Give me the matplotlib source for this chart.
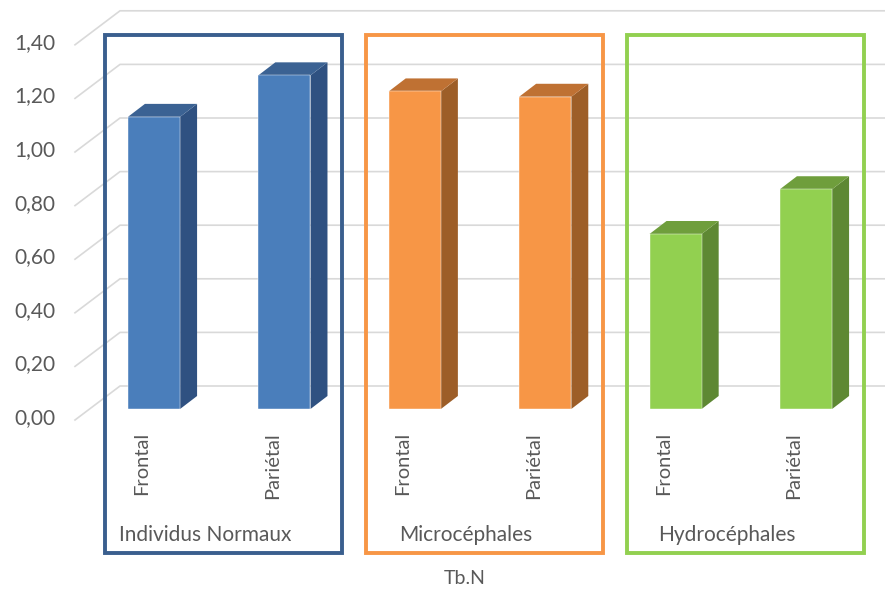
import matplotlib.pyplot as plt
from matplotlib.patches import Polygon, Rectangle

plt.rcParams['font.family'] = ['Lato', 'DejaVu Sans']

# data
groups = ['Individus Normaux', 'Microcéphales', 'Hydrocéphales']
regions = ['Frontal', 'Pariétal']
values = [[1.09, 1.245], [1.185, 1.165], [0.653, 0.82]]
yticks = [0.0, 0.2, 0.4, 0.6, 0.8, 1.0, 1.2, 1.4]
xlabel = 'Tb.N'

front_cols = ['#4A7EBB', '#F79646', '#92D050']
side_cols = ['#2F5181', '#9D5E28', '#5E8833']
top_cols = ['#3B6293', '#BF7133', '#6F9E3C']
box_cols = ['#3A5F8E', '#F79646', '#92D050']
text_col = '#595959'

# layout: one axes over whole figure, 130.4 px per category, 268 px per unit
PX_X = 1 / 130.4
PX_Y = 1 / 268
W = 0.40
DX, DY = 17 * PX_X, 13 * PX_Y          # bar depth
WX, WY = 45 * PX_X, 34 * PX_Y          # wall depth
FRONT_Y = -11 * PX_Y                    # front wall baseline offset

fig = plt.figure(figsize=(8.85, 5.91), dpi=100)
ax = fig.add_axes([0, 0, 1, 1])
ax.set_xlim(-154 * PX_X, 731 * PX_X)
ax.set_ylim(-182 * PX_Y, 409 * PX_Y)
ax.axis('off')

# gridlines (left wall diagonal + back wall horizontal)
x_front = -79 * PX_X
for t in yticks:
    yf = t + FRONT_Y
    yb = yf + WY
    ax.plot([x_front, x_front + WX, 10], [yf, yb, yb], color='#D9D9D9', lw=1.2, zorder=1)
    ax.text(-99 * PX_X, yf + 2 * PX_Y, f'{t:.2f}'.replace('.', ','), ha='right', va='center',
            fontsize=15, color=text_col)

# bars
for g, vals in enumerate(values):
    for r, v in enumerate(vals):
        x = g * len(regions) + r
        xr = x + W / 2
        xl = x - W / 2
        side = Polygon([(xr, 0), (xr + DX, DY), (xr + DX, v + DY), (xr, v)],
                       closed=True, facecolor=side_cols[g], edgecolor='none', zorder=3)
        top = Polygon([(xl, v), (xr, v), (xr + DX, v + DY), (xl + DX, v + DY)],
                      closed=True, facecolor=top_cols[g], edgecolor='none', zorder=3)
        ax.add_patch(side)
        ax.add_patch(top)
        ax.bar(x, v, width=W, color=front_cols[g], edgecolor='#FFFFFF', linewidth=0.3,
               zorder=4)
        ax.text(x - 12 * PX_X, -23 * PX_Y, regions[r], rotation=90, ha='center', va='top',
                fontsize=14.5, color=text_col)

    # group box and label
    x0 = g * len(regions)
    x1 = x0 + len(regions) - 1
    ax.add_patch(Rectangle((x0 - 49 * PX_X, -144 * PX_Y), (x1 - x0) + 107 * PX_X,
                           (374 + 144) * PX_Y, fill=False, edgecolor=box_cols[g],
                           linewidth=2.8, zorder=5))
    ax.text((x0 + x1) / 2 - 14 * PX_X, -126 * PX_Y, groups[g], ha='center', va='center',
            fontsize=15, color=text_col)

ax.text((len(values) * len(regions) - 1) / 2 - 15 * PX_X, -169 * PX_Y, xlabel,
        ha='center', va='center', fontsize=14, color=text_col)

fig.savefig('out.png', dpi=100)
